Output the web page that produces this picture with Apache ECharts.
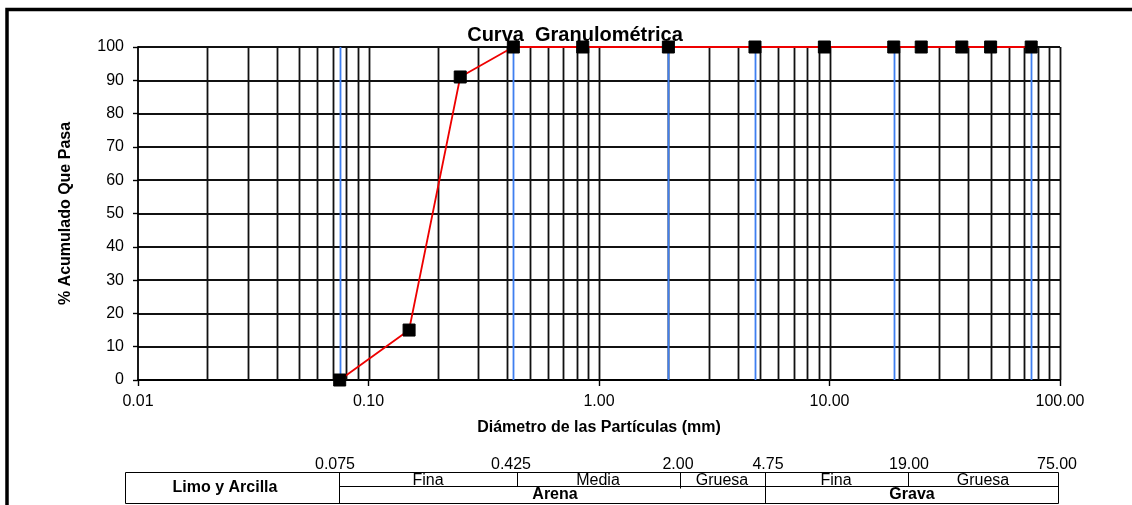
<!DOCTYPE html>
<html><head><meta charset="utf-8">
<script src="https://cdn.jsdelivr.net/npm/echarts@6/dist/echarts.min.js"></script>
<style>html,body{margin:0;padding:0;background:#fff}#c{width:1132px;height:505px}</style>
</head><body><div id="c"></div><script>
// ---- data ----
const diameters = [0.075, 0.15, 0.25, 0.425, 0.85, 2.0, 4.75, 9.5, 19, 25, 37.5, 50, 75];
const passing   = [0, 15, 91, 100, 100, 100, 100, 100, 100, 100, 100, 100, 100];
const boundaries = [0.075, 0.425, 2.0, 4.75, 19, 75];
const xTicks = [0.01, 0.1, 1, 10, 100];
const xTickLabels = ['0.01', '0.10', '1.00', '10.00', '100.00'];
const yTickLabels = ['0','10','20','30','40','50','60','70','80','90','100'];
const tableSieveLabels = ['0.075', '0.425', '2.00', '4.75', '19.00', '75.00'];
const tableSubLabels = ['Fina', 'Media', 'Gruesa', 'Fina', 'Gruesa'];
const tableGroupLabels = ['Limo y Arcilla', 'Arena', 'Grava'];
const titleText = 'Curva  Granulométrica';
const xName = 'Diámetro de las Partículas (mm)';
const yName = '% Acumulado Que Pasa';

// ---- layout ----
const FF = '"Liberation Sans", Arial, sans-serif';
const sieveX = [339.5, 517.5, 680.5, 765.5, 908.5, 1058.5];
const tblLeft = 125.5, tblTop = 472.5, tblMid = 486.5, tblBot = 503.5;

// grid lines for log axis (1..9 x 10^k)
const gridVals = [];
for (let k = -2; k <= 1; k++) for (let m = 1; m <= 9; m++) {
  const v = m * Math.pow(10, k);
  if (m > 1 || k > -2) gridVals.push(v);
}
gridVals.push(100);

const chart = echarts.init(document.getElementById('c'), null, {renderer: 'canvas'});

const g = [];
function ln(x1, y1, x2, y2, w) {
  g.push({type: 'line', silent: true, shape: {x1, y1, x2, y2}, style: {stroke: '#000', lineWidth: w || 1}});
}
function tx(text, x, y, font, extra) {
  g.push(Object.assign({type: 'text', silent: true, x, y,
    style: {text, font, fill: '#000', align: 'center', verticalAlign: 'middle'}}, extra || {}));
}
// outer frame (top & left)
g.push({type: 'polyline', silent: true, shape: {points: [[7, 510], [7, 9.5], [1140, 9.5]]},
  style: {stroke: '#000', lineWidth: 3.5, fill: null}});
// table
ln(tblLeft, tblTop, sieveX[5], tblTop);
ln(tblLeft, tblBot, sieveX[5], tblBot);
ln(tblLeft, tblTop, tblLeft, tblBot);
ln(sieveX[5], tblTop, sieveX[5], tblBot);
ln(sieveX[0], tblTop, sieveX[0], tblBot);
ln(sieveX[3], tblTop, sieveX[3], tblBot);
ln(sieveX[0], tblMid, sieveX[5], tblMid);
ln(sieveX[1], tblTop, sieveX[1], tblMid);
ln(sieveX[2], tblTop, sieveX[2], tblMid + 2);
ln(sieveX[4], tblTop, sieveX[4], tblMid);
const sieveLabelX = [335, 511, 678, 768, 909, 1057];
tableSieveLabels.forEach((t, i) => tx(t, sieveLabelX[i], 465, '16px ' + FF));
const subCenters = [428, 598, 722, 836, 983];
tableSubLabels.forEach((t, i) => tx(t, subCenters[i], 481, '16px ' + FF));
const groupPos = [[225, 488], [555, 495], [912, 495]];
tableGroupLabels.forEach((t, i) => tx(t, groupPos[i][0], groupPos[i][1], 'bold 16px ' + FF));
// title
tx(titleText, 575, 35, 'bold 20px ' + FF);

function vLines(color, width) {
  return function (params, api) {
    const x = api.value(0);
    const p0 = api.coord([x, 0]);
    const p1 = api.coord([x, 100]);
    const px = Math.round(p0[0]) + 0.5;
    return {type: 'line', silent: true,
      shape: {x1: px, y1: p0[1], x2: px, y2: p1[1]},
      style: {stroke: color, lineWidth: width}};
  };
}

chart.setOption({
  animation: false,
  backgroundColor: '#fff',
  grid: {left: 138, right: 72, top: 47, bottom: 125, containLabel: false},
  xAxis: {
    type: 'log', logBase: 10, min: 0.01, max: 100,
    name: xName, nameLocation: 'middle', nameGap: 40,
    nameTextStyle: {fontFamily: FF, fontWeight: 'bold', fontSize: 16, color: '#000'},
    axisLine: {show: true, lineStyle: {color: '#000', width: 1.8}},
    axisTick: {show: true, length: 6, lineStyle: {color: '#000', width: 1.4}},
    axisLabel: {fontFamily: FF, fontSize: 16, color: '#000', margin: 14,
      formatter: v => { const i = xTicks.findIndex(t => Math.abs(Math.log10(t) - Math.log10(v)) < 1e-6); return i >= 0 ? xTickLabels[i] : ''; }},
    splitLine: {show: false}, minorTick: {show: false}
  },
  yAxis: {
    type: 'value', min: 0, max: 100, interval: 10,
    name: yName, nameLocation: 'middle', nameGap: 64, nameRotate: 90,
    nameTextStyle: {fontFamily: FF, fontWeight: 'bold', fontSize: 16, color: '#000'},
    axisLine: {show: true, lineStyle: {color: '#000', width: 1.8}},
    axisTick: {show: true, length: 5, lineStyle: {color: '#000', width: 1.4}},
    axisLabel: {fontFamily: FF, fontSize: 16, color: '#000', margin: 14,
      formatter: v => yTickLabels[Math.round(v / 10)]},
    splitLine: {show: true, lineStyle: {color: '#111', width: 1.8}}
  },
  series: [
    {
      type: 'custom', silent: true, z: 1, clip: false,
      data: gridVals.map(v => [v]), encode: {x: 0},
      renderItem: vLines('#111', 1.8)
    },
    {
      type: 'custom', silent: true, z: 2, clip: false,
      data: boundaries.map(v => [v]), encode: {x: 0},
      renderItem: vLines('#3f7ff0', 1.8)
    },
    {
      type: 'line', name: 'Curva', clip: false, z: 5,
      data: diameters.map((d, i) => [d, passing[i]]),
      lineStyle: {color: '#ee0000', width: 1.8},
      symbol: 'rect', symbolSize: 12,
      itemStyle: {color: '#000', borderColor: '#000'}
    }
  ],
  graphic: g
});
</script></body></html>
